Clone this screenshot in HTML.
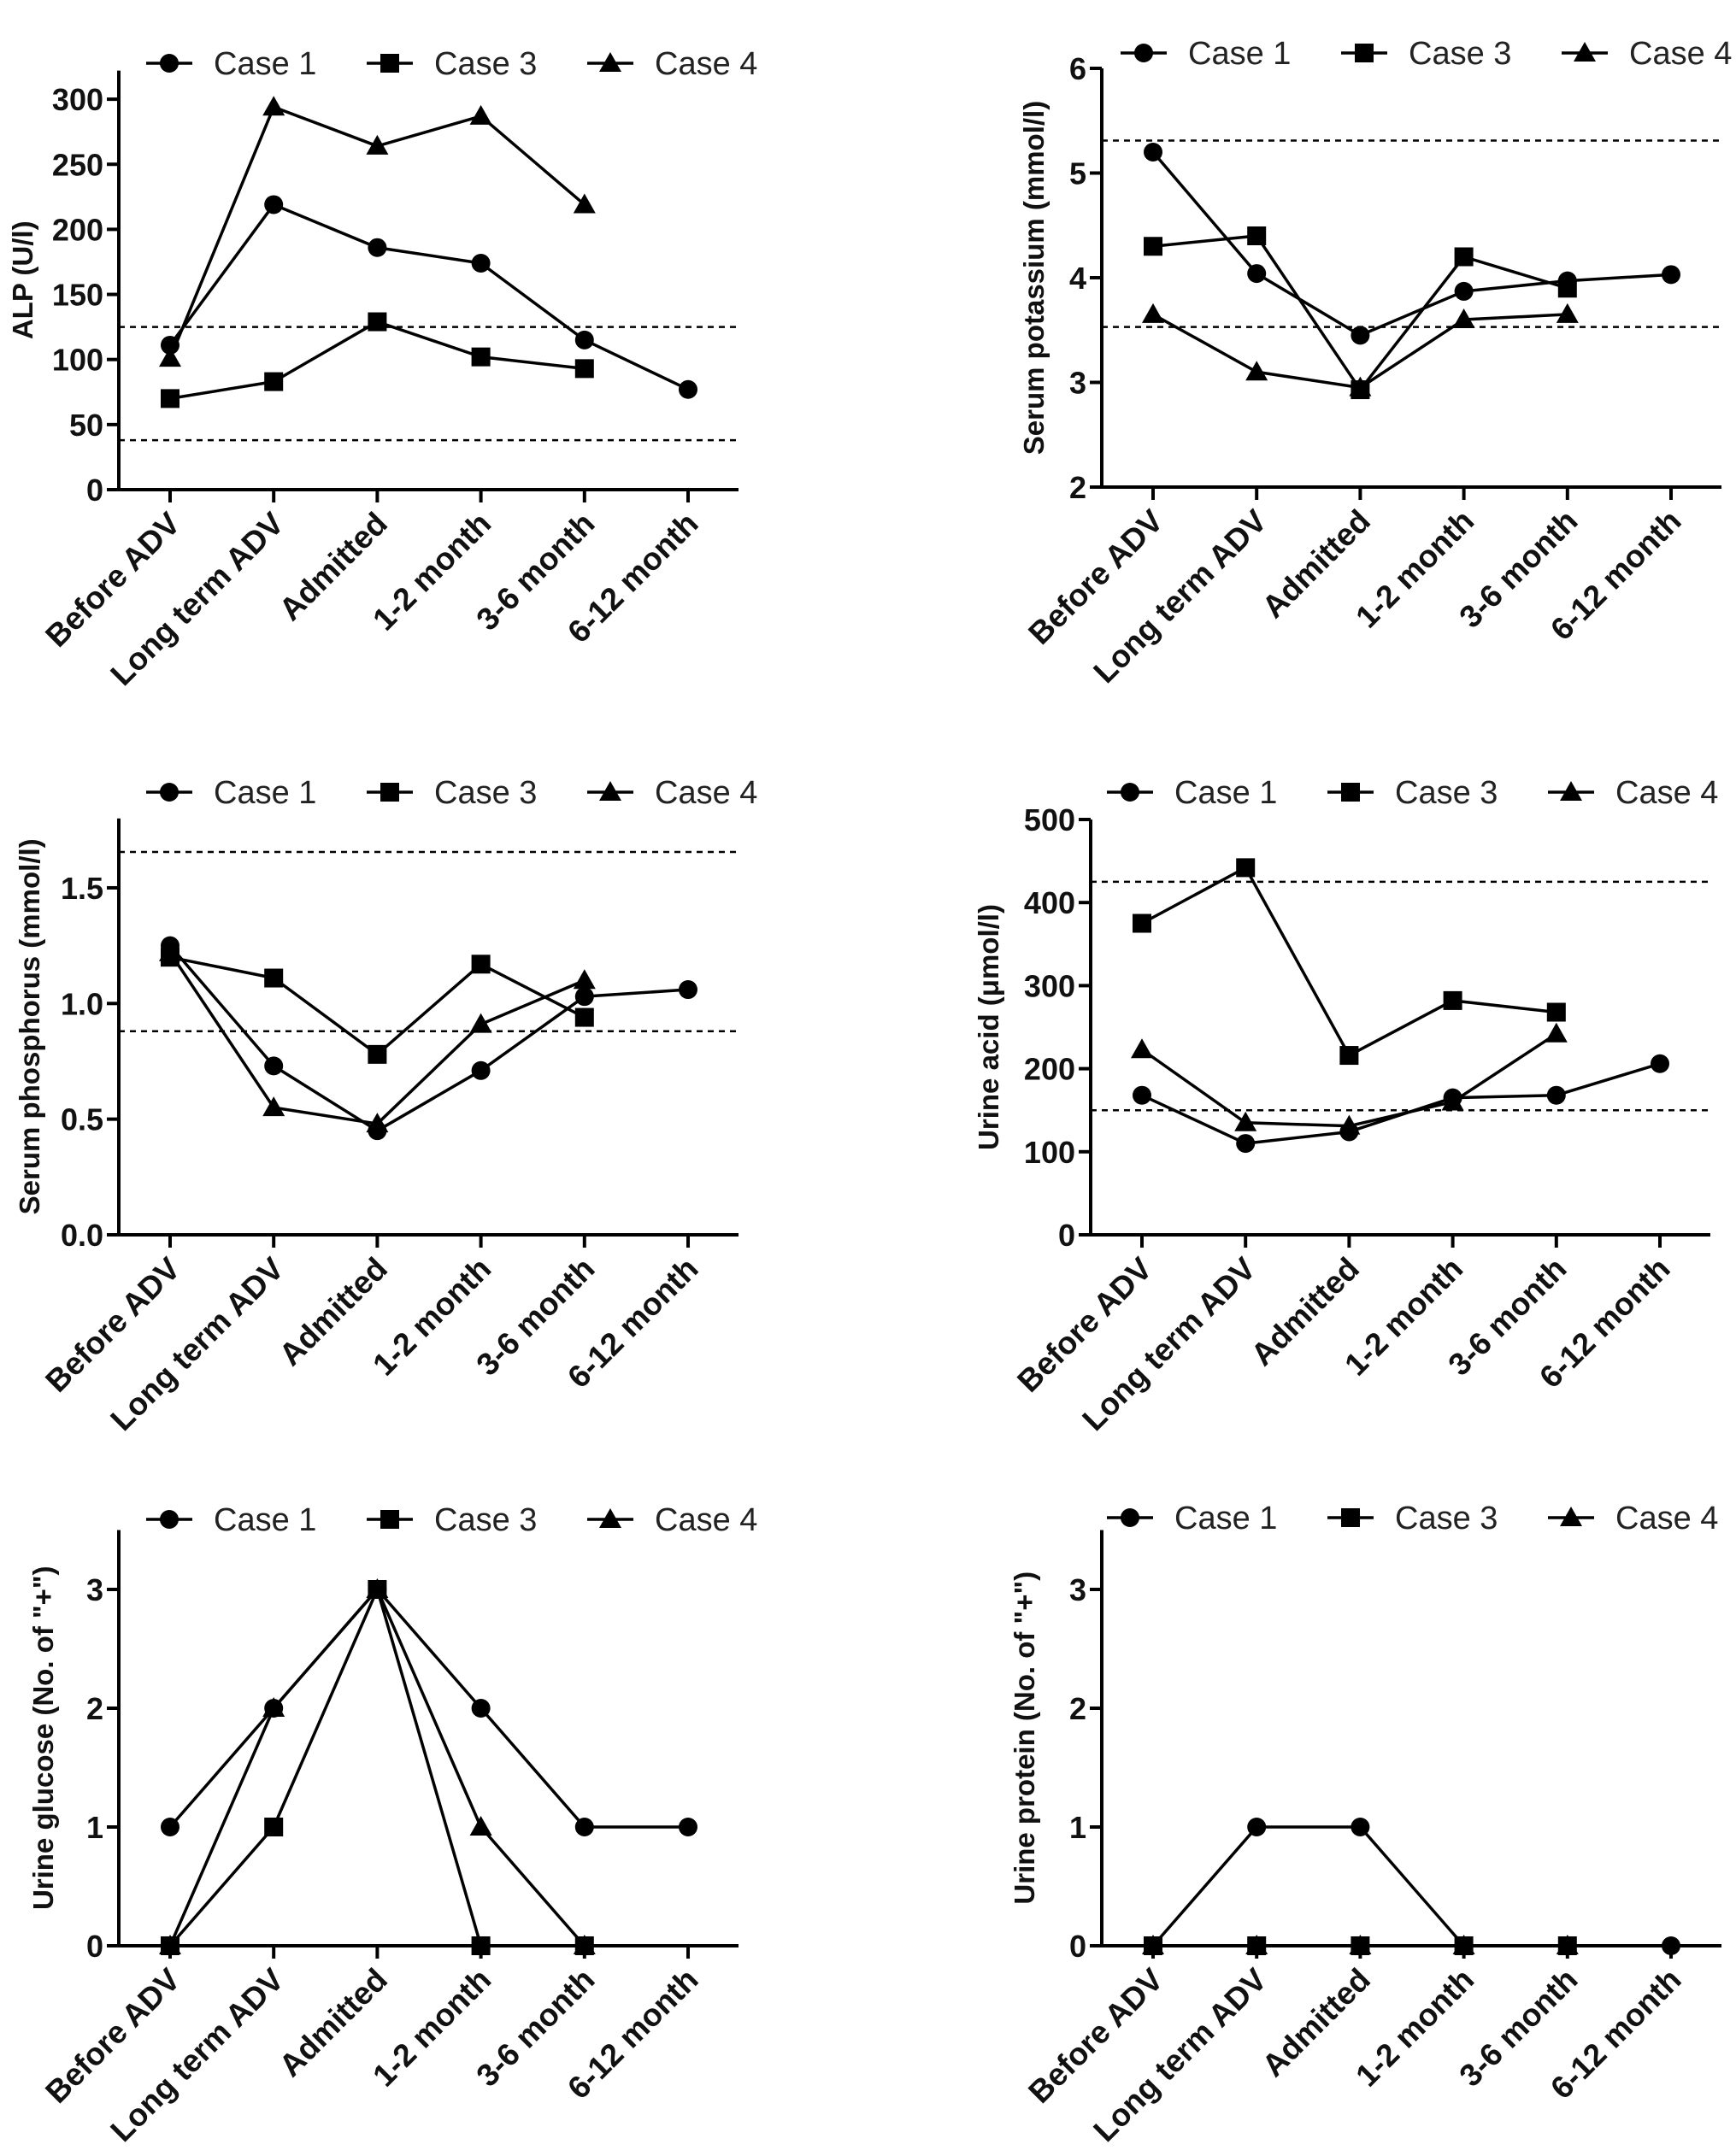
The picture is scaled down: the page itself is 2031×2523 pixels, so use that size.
<!DOCTYPE html>
<html><head><meta charset="utf-8"><style>
html,body{margin:0;padding:0;background:#fff;}
svg{display:block;font-family:"Liberation Sans",Arial,sans-serif;}
</style></head><body>
<svg id="fig" width="2031" height="2523" viewBox="0 0 2031 2523" xmlns="http://www.w3.org/2000/svg"></svg>
<script>
const categories = ["Before ADV","Long term ADV","Admitted","1-2 month","3-6 month","6-12 month"];
const seriesNames = ["Case 1","Case 3","Case 4"];
const markers = ["circle","square","triangle"];

const alpCase1 = [111,219,186,174,115,77];
const alpCase3 = [70,83,129,102,93,null];
const alpCase4 = [101,294,264,287,219,null];
const alpTicks = [0,50,100,150,200,250,300];
const alpRef = [125,38];

const kCase1 = [5.2,4.04,3.45,3.87,3.97,4.03];
const kCase3 = [4.3,4.4,2.93,4.2,3.9,null];
const kCase4 = [3.65,3.1,2.95,3.6,3.65,null];
const kTicks = [2,3,4,5,6];
const kRef = [5.31,3.53];

const pCase1 = [1.25,0.73,0.45,0.71,1.03,1.06];
const pCase3 = [1.20,1.11,0.78,1.17,0.94,null];
const pCase4 = [1.22,0.55,0.48,0.91,1.10,null];
const pTicks = [0,0.5,1.0,1.5];
const pTickLabels = ["0.0","0.5","1.0","1.5"];
const pRef = [1.655,0.88];

const uaCase1 = [168,110,124,165,168,206];
const uaCase3 = [375,442,216,282,268,null];
const uaCase4 = [223,135,131,160,242,null];
const uaTicks = [0,100,200,300,400,500];
const uaRef = [425,150];

const gluCase1 = [1,2,3,2,1,1];
const gluCase3 = [0,1,3,0,0,null];
const gluCase4 = [0,2,3,1,0,null];
const gluTicks = [0,1,2,3];

const proCase1 = [0,1,1,0,0,0];
const proCase3 = [0,0,0,0,0,null];
const proCase4 = [0,0,0,0,0,null];
const proTicks = [0,1,2,3];

const panels = [
 {name:"alp", title:"ALP (U/l)", ax:139, y0:573, ymin:0, ymax:322, ppu:1.523, ticks:alpTicks, labels:null, ref:alpRef, data:[alpCase1,alpCase3,alpCase4], legY:74, legX:198, titleX:26},
 {name:"potassium", title:"Serum potassium (mmol/l)", ax:1289, y0:570, ymin:2, ymax:6, ppu:122.5, ticks:kTicks, labels:null, ref:kRef, data:[kCase1,kCase3,kCase4], legY:62, legX:1338, titleX:1209},
 {name:"phosphorus", title:"Serum phosphorus (mmol/l)", ax:139, y0:1445, ymin:0, ymax:1.8, ppu:270.7, ticks:pTicks, labels:pTickLabels, ref:pRef, data:[pCase1,pCase3,pCase4], legY:927, legX:198, titleX:34},
 {name:"urine-acid", title:"Urine acid (\u03bcmol/l)", ax:1276, y0:1445, ymin:0, ymax:500, ppu:0.972, ticks:uaTicks, labels:null, ref:uaRef, data:[uaCase1,uaCase3,uaCase4], legY:927, legX:1322, titleX:1156},
 {name:"urine-glucose", title:"Urine glucose (No. of \"+\")", ax:139, y0:2277, ymin:0, ymax:3.5, ppu:139, ticks:gluTicks, labels:null, ref:[], data:[gluCase1,gluCase3,gluCase4], legY:1778, legX:198, titleX:50},
 {name:"urine-protein", title:"Urine protein (No. of \"+\")", ax:1289, y0:2277, ymin:0, ymax:3.5, ppu:139, ticks:proTicks, labels:null, ref:[], data:[proCase1,proCase3,proCase4], legY:1776, legX:1322, titleX:1198}
];

const NS="http://www.w3.org/2000/svg";
const svg=document.getElementById("fig");
function mk(tag,attrs,parent){const e=document.createElementNS(NS,tag);for(const k in attrs)e.setAttribute(k,attrs[k]);(parent||svg).appendChild(e);return e;}
function drawMarker(type,x,y,g){
  let m;
  if(type==="circle") m=mk("circle",{cx:x,cy:y,r:11,fill:"#000"},g);
  else if(type==="square") m=mk("rect",{x:x-11,y:y-11,width:22,height:22,fill:"#000"},g);
  else m=mk("polygon",{points:`${x},${y-13} ${x-13},${y+10} ${x+13},${y+10}`,fill:"#000"},g);
  return m;
}

panels.forEach(p=>{
  const g=mk("g",{});
  
  
  const xs=i=>p.ax+60+i*121.2;
  const ys=v=>p.y0-(v-p.ymin)*p.ppu;
  const xEnd=p.ax+725;
  const yTop=ys(p.ymax);
  p.ref.forEach((r,i)=>{
    const l=mk("line",{x1:p.ax,x2:xEnd,y1:ys(r),y2:ys(r),stroke:"#000","stroke-width":2.5,"stroke-dasharray":"7,6"},g);
    
    
  });
  const ya=mk("line",{x1:p.ax,x2:p.ax,y1:yTop,y2:p.y0+2,stroke:"#000","stroke-width":4},g);
  
  
  const xa=mk("line",{x1:p.ax-2,x2:xEnd,y1:p.y0,y2:p.y0,stroke:"#000","stroke-width":4},g);
  
  
  p.ticks.forEach((t,i)=>{
    const y=ys(t);
    mk("line",{x1:p.ax-14,x2:p.ax,y1:y,y2:y,stroke:"#000","stroke-width":4},g);
    const tx=mk("text",{x:p.ax-18,y:y+13,"text-anchor":"end","font-size":36,"font-weight":"bold",fill:"#111"},g);
    tx.textContent=p.labels?p.labels[i]:String(t);
    
    
  });
  categories.forEach((c,i)=>{
    const x=xs(i);
    mk("line",{x1:x,x2:x,y1:p.y0,y2:p.y0+15,stroke:"#000","stroke-width":4},g);
    const tx=mk("text",{x:0,y:0,"text-anchor":"end","font-size":37,"font-weight":"bold",fill:"#111",transform:`translate(${x+14},${p.y0+42}) rotate(-45)`},g);
    tx.textContent=c;
    
    
  });
  const tt=mk("text",{x:0,y:0,"text-anchor":"middle","font-size":33,"font-weight":"bold",fill:"#111",transform:`translate(${p.titleX+12},${(yTop+p.y0)/2}) rotate(-90)`},g);
  tt.textContent=p.title;
  
  
  p.data.forEach((arr,si)=>{
    let pts=[];
    arr.forEach((v,i)=>{if(v!==null)pts.push([xs(i),ys(v)]);});
    const pl=mk("polyline",{points:pts.map(q=>q.join(",")).join(" "),fill:"none",stroke:"#000","stroke-width":3.5,"stroke-linejoin":"round"},g);
    
    
    pts.forEach(q=>{
      const m=drawMarker(markers[si],q[0],q[1],g);
      
      
    });
  });
  seriesNames.forEach((n,si)=>{
    const cx=p.legX+si*258;
    const lg=mk("g",{},g);
    
    
    mk("line",{x1:cx-27,x2:cx+27,y1:p.legY,y2:p.legY,stroke:"#000","stroke-width":3.5},lg);
    drawMarker(markers[si],cx,p.legY,lg);
    const tx=mk("text",{x:cx+52,y:p.legY+13,"font-size":38,fill:"#222"},lg);
    tx.textContent=n;
  });
});
</script>
</body></html>
